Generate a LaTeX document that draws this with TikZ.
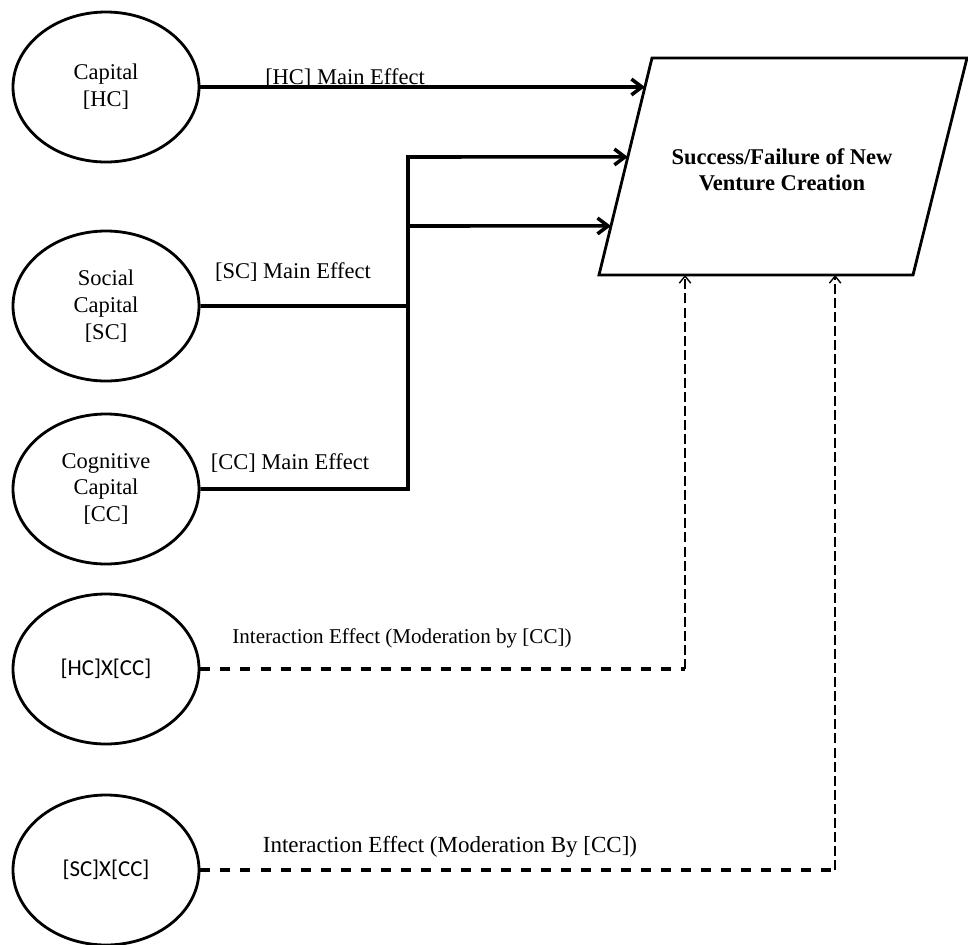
\documentclass[tikz,border=0pt]{standalone}
\usepackage{fontspec}
\setmainfont{Liberation Serif}
\newfontfamily\calfont{Carlito}
\usetikzlibrary{shapes.geometric,arrows.meta,calc}

\begin{document}
\begin{tikzpicture}[
    capnode/.style={ellipse, draw=black, line width=1.6pt, minimum width=3.72cm, minimum height=3cm, inner sep=0pt, align=center, font=\fontsize{12.8}{15.3}\selectfont},
    main/.style={black, line width=2pt, -{Straight Barb[length=6pt,width=9pt]}},
    interh/.style={black, line width=1.8pt, dash pattern=on 5.7pt off 5.7pt},
    interv/.style={black, line width=1.1pt, dash pattern=on 5.7pt off 2.3pt, -{Straight Barb[length=4pt,width=6.5pt,line width=0.8pt]}},
    lbl/.style={inner sep=0pt, font=\fontsize{12.8}{15}\selectfont}
]
    \useasboundingbox (0,0) rectangle (19.36,-18.9);
    \node[capnode] (hc) at (2.12,-1.74) {Capital\\{}[HC]};
    \node[capnode] (sc) at (2.12,-6.12) {Social\\Capital\\{}[SC]};
    \node[capnode] (cc) at (2.12,-9.78) {Cognitive\\Capital\\{}[CC]};
    \node[capnode, font=\calfont\fontsize{13}{15}\selectfont] (hcxcc) at (2.12,-13.38) {[HC]X[CC]};
    \node[capnode, font=\calfont\fontsize{13}{15}\selectfont] (scxcc) at (2.12,-17.40) {[SC]X[CC]};
    \coordinate (tl) at (13.04,-1.16);
    \coordinate (tr) at (19.34,-1.16);
    \coordinate (br) at (18.26,-5.5);
    \coordinate (bl) at (11.98,-5.5);
    \draw[black, line width=1.6pt] (tl) -- (tr) -- (br) -- (bl) -- cycle;
    \node[align=center, font=\bfseries\fontsize{12.8}{14.7}\selectfont] (outcome) at (15.64,-3.4) {Success/Failure of New\\Venture Creation};
    \coordinate (e1) at ($(bl)!0.866!(tl)$);
    \coordinate (e2) at ($(bl)!0.544!(tl)$);
    \coordinate (e3) at ($(bl)!0.226!(tl)$);
    \coordinate (j2) at (8.16,-3.14);
    \coordinate (j3) at (8.16,-4.52);
    \coordinate (d1) at ($(bl)!0.274!(br)$);
    \coordinate (d2) at ($(bl)!0.752!(br)$);
    \coordinate (k1) at (hcxcc.east -| d1);
    \coordinate (k2) at (scxcc.east -| d2);
    \draw[main] (hc.east) -- (hc.east -| e1);
    \draw[main] (cc.east) -| (j2) -- (e2);
    \draw[main] (sc.east) -| (j3) -- (e3);
    \draw[interh] (hcxcc.east) -- (k1);
    \draw[interv] (k1) -- (d1);
    \draw[interh] (scxcc.east) -- (k2);
    \draw[interv] (k2) -- (d2);
    \node[lbl] (hclbl) at (6.9,-1.56) {[HC] Main Effect};
    \node[lbl] (sclbl) at (5.86,-5.44) {[SC] Main Effect};
    \node[lbl] (cclbl) at (5.8,-9.26) {[CC] Main Effect};
    \node[lbl, font=\fontsize{12}{14}\selectfont] (hcxlbl) at (8.04,-12.76) {Interaction Effect (Moderation by [CC])};
    \node[lbl, font=\fontsize{13.1}{15}\selectfont] (scxlbl) at (9.0,-16.94) {Interaction Effect (Moderation By [CC])};
\end{tikzpicture}
\end{document}
